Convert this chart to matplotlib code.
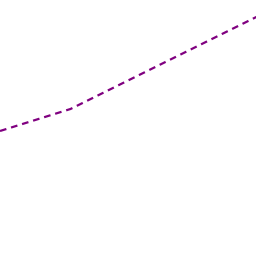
import matplotlib
matplotlib.use("Agg")
import matplotlib.pyplot as plt

x_vals = [0, 3, 11]
y_vals = [125, 147, 240]

fig = plt.figure(figsize=(2.56, 2.56), dpi=100)
ax = fig.add_axes([0, 0, 1, 1])
ax.plot(x_vals, y_vals, color="#800080", linestyle="--", linewidth=1.6,
        dashes=(3, 2.2))
ax.set_xlim(0, 10.9)
ax.set_ylim(0, 256)
ax.axis("off")
fig.savefig("out.png", dpi=100)
